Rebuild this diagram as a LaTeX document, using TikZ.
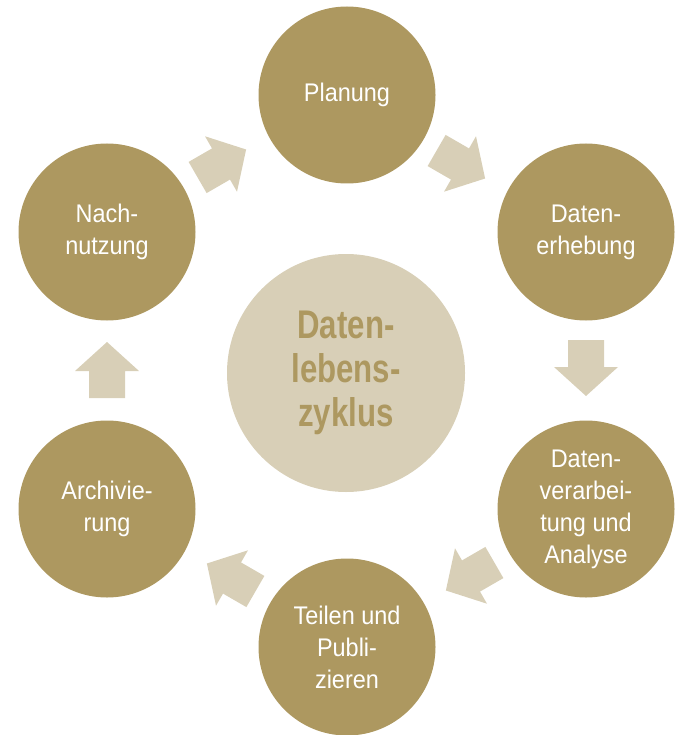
\documentclass[tikz,border=0pt]{standalone}
\usepackage{fontspec}
\setmainfont[FakeStretch=0.92]{Liberation Sans}
\newfontfamily\zentrumfont[FakeStretch=0.78]{Liberation Sans Bold}
\definecolor{dunkel}{HTML}{AD9860}
\definecolor{hell}{HTML}{D8CFB7}

\begin{document}
\begin{tikzpicture}[x=1pt,y=-1pt,
    phase/.style={circle,fill=dunkel,minimum size=177pt,inner sep=0pt,text=white,align=center,font=\fontsize{25.5}{32}\selectfont},
    zentrum/.style={circle,fill=hell,minimum size=238pt,inner sep=0pt,text=dunkel,align=center,font=\zentrumfont\fontsize{40}{44}\selectfont},
    pics/pfeil/.style={code={\fill[hell] (-27,-18) -- (0,-18) -- (0,-32) -- (29,0) -- (0,32) -- (0,18) -- (-27,18) -- cycle;}}]
    \useasboundingbox (0,0) rectangle (677,735);

    \node[zentrum] (zyklus) at (346,373) {Daten-\\lebens-\\zyklus};

    \node[phase] (planung) at (347,95) {Planung};
    \node[phase] (erhebung) at (586,232) {Daten-\\erhebung};
    \node[phase] (analyse) at (586,509) {Daten-\\verarbei-\\tung und\\Analyse};
    \node[phase] (teilen) at (347,647) {Teilen und\\Publi-\\zieren};
    \node[phase] (archiv) at (107,509) {Archivie-\\rung};
    \node[phase] (nachnutzung) at (107,232) {Nach-\\nutzung};

    % Pfeile im Uhrzeigersinn
    \pic[rotate=-30] (p1) at (460,164) {pfeil};
    \pic[rotate=-90] (p2) at (586,367) {pfeil};
    \pic[rotate=-150] (p3) at (471,576) {pfeil};
    \pic[rotate=150] (p4) at (232,578) {pfeil};
    \pic[rotate=90] (p5) at (107,371) {pfeil};
    \pic[rotate=30] (p6) at (221,164) {pfeil};
\end{tikzpicture}
\end{document}
